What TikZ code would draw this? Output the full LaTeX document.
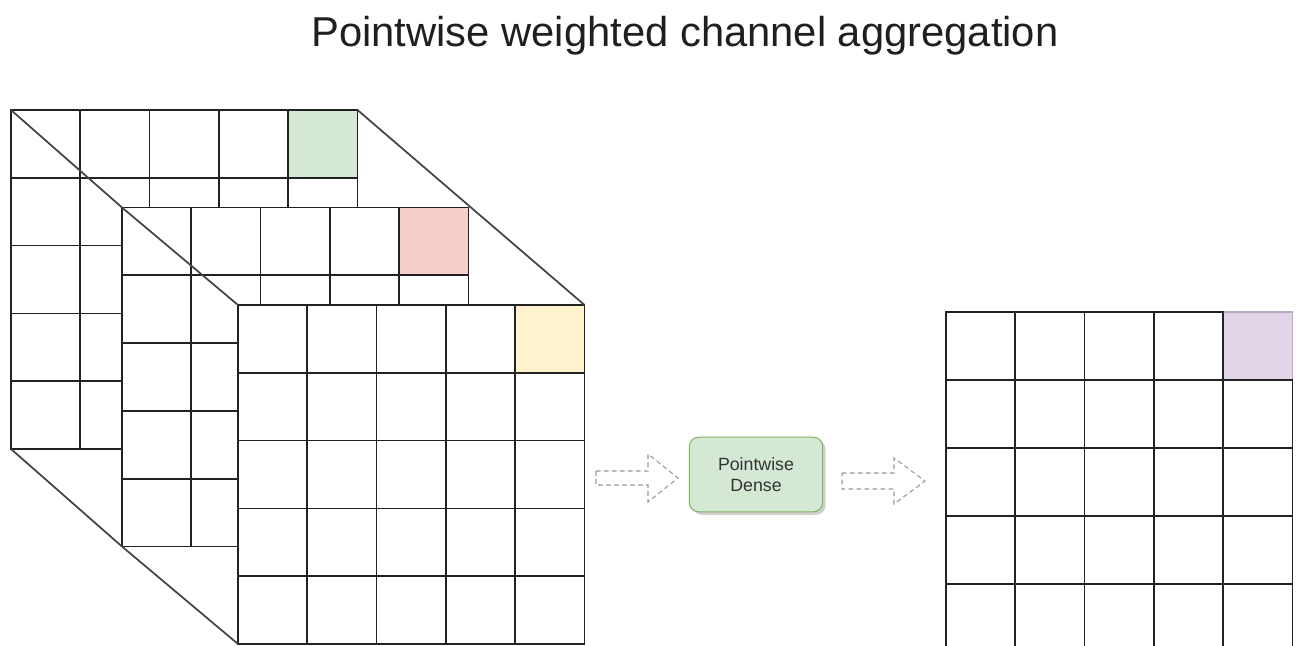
\documentclass[tikz,border=0pt]{standalone}
\usepackage{fontspec}
\setmainfont{Liberation Sans}
\usetikzlibrary{shadows}

\definecolor{cellgreen}{HTML}{D5E8D4}
\definecolor{cellred}{HTML}{F8CECC}
\definecolor{cellyellow}{HTML}{FFF2CC}
\definecolor{cellpurple}{HTML}{E1D5E7}
\definecolor{purpleedge}{HTML}{B8A8C4}
\definecolor{boxedge}{HTML}{82B366}
\definecolor{gridink}{HTML}{222222}
\definecolor{arrowink}{HTML}{9A9A9A}

\tikzset{
  gridline/.style={draw=gridink, line width=1.3pt, line cap=rect},
  edgeline/.style={draw=gridink!85, line width=1.3pt},
  densebox/.style={draw=boxedge, fill=cellgreen, line width=0.8pt,
    rounded corners=7pt, minimum width=100pt, minimum height=56pt,
    align=center, font=\fontsize{13.3}{15.8}\selectfont, text=black!80,
    drop shadow={shadow xshift=2.2pt, shadow yshift=-2.2pt, fill=black!30, opacity=0.6}},
  flowarrow/.style={draw=arrowink, line width=0.8pt, dash pattern=on 3.5pt off 2.5pt},
  titletext/.style={font=\fontsize{31.3}{36}\selectfont, text=black!88},
}

% a 5 x 5 grid of cells with its top-left corner at (#1,#2) and rows #5 high;
% the top-right cell is filled with colour #3 and edged with #4
\newcommand\cellgrid[5]{%
  \fill[white] (#1,#2) rectangle ++(346.5,#5*5);
  \fill[#3] (#1+277.2,#2) rectangle ++(69.3,#5);
  \foreach \k in {0,...,5} {
    \draw[gridline] (#1+\k*69.3,#2) -- ++(0,#5*5);
    \draw[gridline] (#1,#2+\k*#5) -- ++(346.5,0);
  }
  \draw[draw=#4, line width=1.3pt] (#1+277.2,#2) rectangle ++(69.3,#5);
}

\begin{document}
\begin{tikzpicture}[x=0.75pt,y=-0.75pt]
  \clip (0,0) rectangle (1304,646);
  \fill[white] (0,0) rectangle (1304,646);

  % title
  \node[titletext, anchor=base] (title) at (685,46) {Pointwise weighted channel aggregation};

  % stack of three feature maps
  \coordinate (backTL)  at (11,110);
  \coordinate (midTL)   at (122,207.5);
  \coordinate (frontTL) at (238,305);
  \cellgrid{11}{110}{cellgreen}{gridink}{67.8}
  \cellgrid{122}{207.5}{cellred}{gridink}{67.8}
  \cellgrid{238}{305}{cellyellow}{gridink}{67.8}

  % depth edges joining the corners of the stack
  \coordinate (backTR)  at (357.5,110);
  \coordinate (frontTR) at (584.5,305);
  \coordinate (backBL)  at (11,449);
  \coordinate (midBL)   at (122,546.5);
  \coordinate (frontBL) at (238,644);
  \draw[edgeline] (backTL) -- (midTL) -- (frontTL);
  \draw[edgeline] (backTR) -- (frontTR);
  \draw[edgeline] (backBL) -- (midBL) -- (frontBL);

  % output map
  \cellgrid{946}{312}{cellpurple}{purpleedge}{68}
  \draw[gridline] (946+277.2,312+68) -- ++(69.3,0);
  \draw[gridline] (946+277.2,312+68) -- ++(0,-68);

  % pointwise dense block
  \node[densebox] (dense) at (756,474.5) {Pointwise\\Dense};

  % dashed block arrows in and out of the block
  \coordinate (inArrow)  at (596,478);
  \coordinate (outArrow) at (842,481);
  \draw[flowarrow] (inArrow) ++(0,-7) -- ++(52,0) -- ++(0,-17) -- ++(30,24)
    -- ++(-30,24) -- ++(0,-17) -- ++(-52,0) -- cycle;
  \draw[flowarrow] (outArrow) ++(0,-8) -- ++(52,0) -- ++(0,-15) -- ++(31,23)
    -- ++(-31,23) -- ++(0,-15) -- ++(-52,0) -- cycle;
\end{tikzpicture}
\end{document}
